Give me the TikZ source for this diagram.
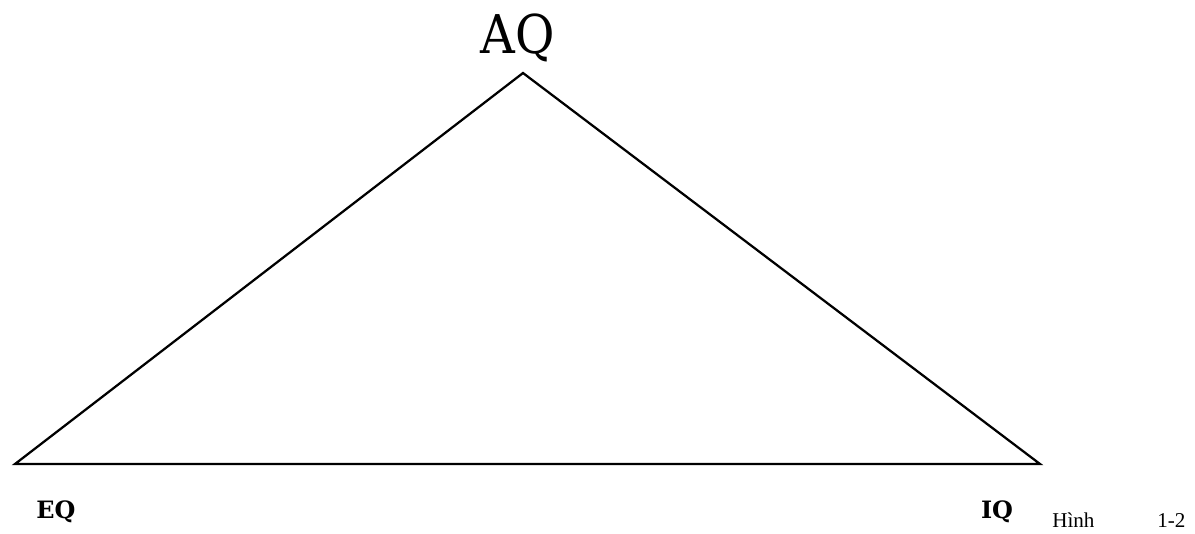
\documentclass[tikz,border=0pt]{standalone}
\usepackage{fontspec}
\setmainfont{Liberation Serif}
\newfontfamily\slabfont{DejaVu Serif}
\newfontfamily\slabcondfont{DejaVu Serif Condensed}
\usetikzlibrary{calc, positioning}

\begin{document}
\begin{tikzpicture}[x=0.025cm,y=-0.025cm,
    vertex label/.style={font=\slabfont\bfseries\fontsize{17}{19}\selectfont, inner sep=0pt},
    side/.style={line width=1.6pt, line join=miter}]
    \useasboundingbox (0,0) rectangle (1195,533);

    \coordinate (top) at (523,73);
    \coordinate (left) at (15,464);
    \coordinate (right) at (1040,464);

    \draw[side] (left) -- (top) -- (right) -- cycle;

    \node[font=\slabcondfont\fontsize{38}{42}\selectfont, inner sep=0pt] (aq) at (518,38) {AQ};
    \node[vertex label] (eq) at (56,512) {EQ};
    \node[vertex label] (iq) at (997,512) {IQ};

    % caption at the lower right
    \node[anchor=base west, font=\fontsize{15}{17}\selectfont, inner sep=0pt] (hinh) at (1052,527) {Hình};
    \node[anchor=base west, font=\fontsize{15}{17}\selectfont, inner sep=0pt] (num) at (1157,527) {1-2};
\end{tikzpicture}
\end{document}
